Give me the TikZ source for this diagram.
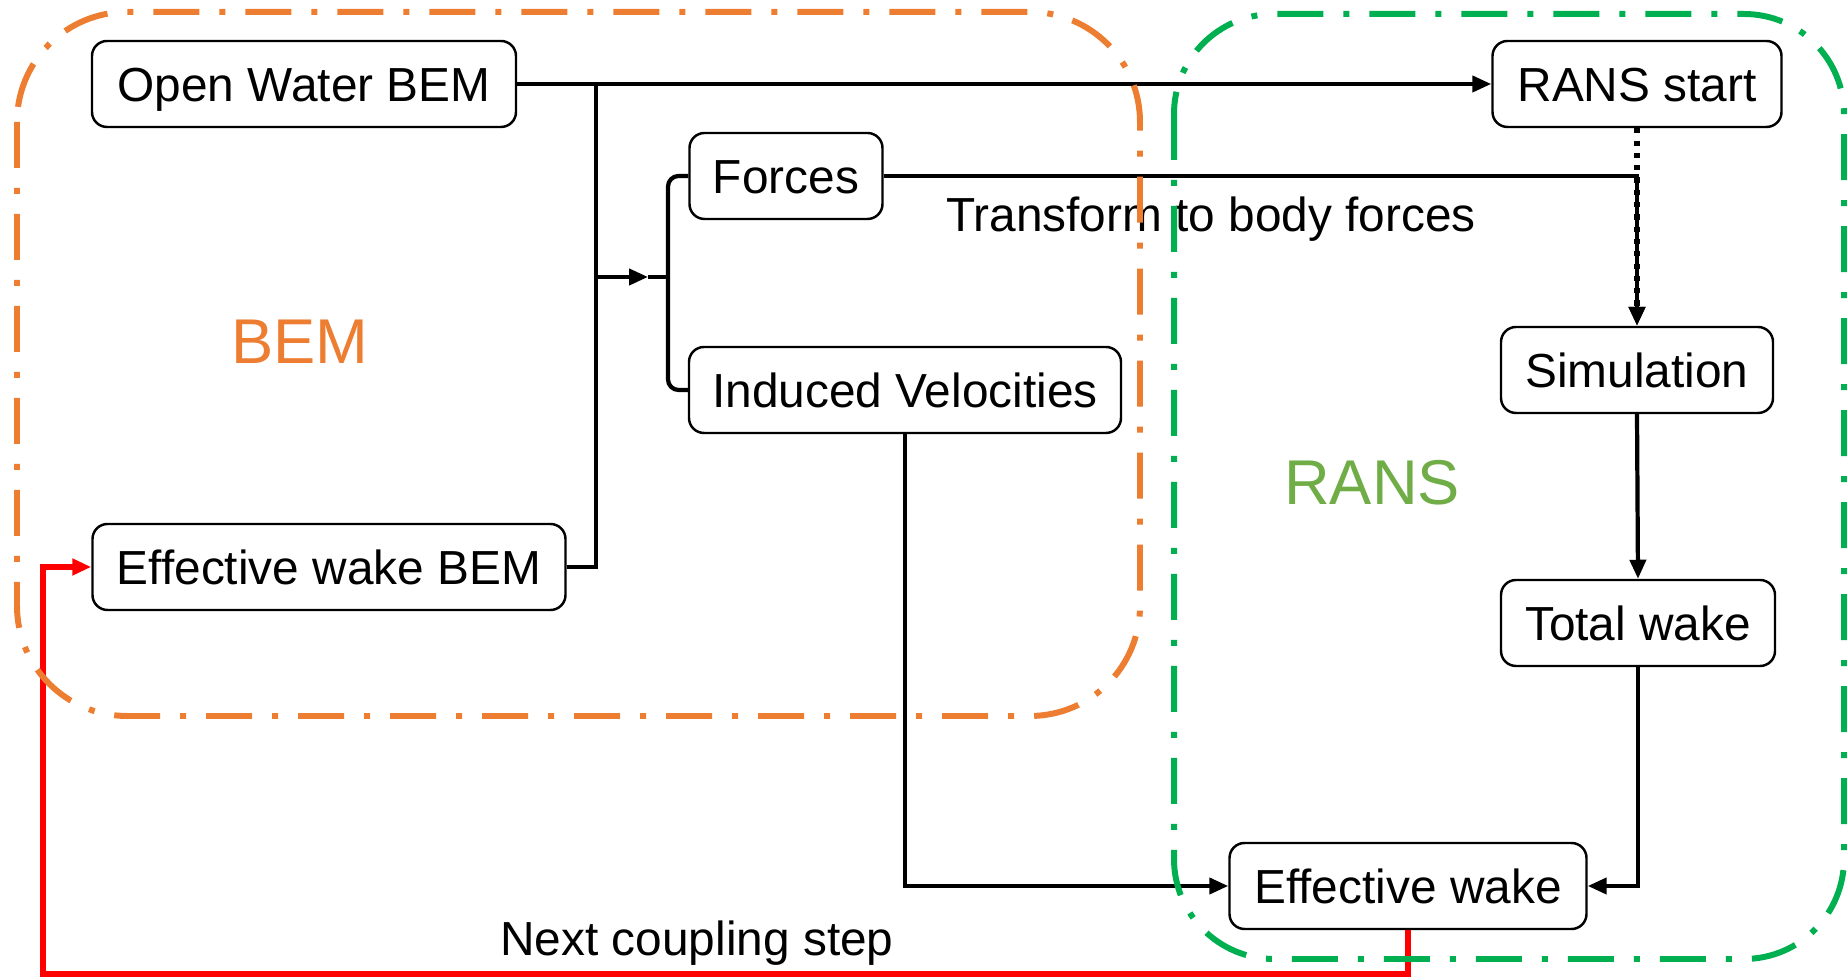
\documentclass[tikz,border=0pt]{standalone}
\usepackage{fontspec}
\setmainfont{Liberation Sans}
\usetikzlibrary{arrows.meta}

\definecolor{bemorange}{RGB}{237,125,49}
\definecolor{ransgreen}{RGB}{0,176,80}
\definecolor{ranslabel}{RGB}{112,173,71}

\begin{document}
\begin{tikzpicture}[
	box/.style={draw, line width=0.7pt, rounded corners=0.15cm, minimum height=0.86cm, inner sep=0pt, text height=9.7pt, text depth=0pt, font=\fontsize{13.6}{16}\selectfont},
	conn/.style={line width=1.2pt},
	arr/.style={conn, -{Triangle[length=0.19cm, width=0.16cm]}},
	region/.style={line width=1.7pt, dash pattern=on 0.46cm off 0.2cm on 0.06cm off 0.2cm},
	lbl/.style={font=\fontsize{13.6}{16}\selectfont}
]
	\useasboundingbox (0,0) rectangle (18.47,-9.77);

	\node[box, minimum width=4.24cm] (owbem) at (3.04,-0.84) {Open Water BEM};
	\node[box, minimum width=4.73cm] (ewbem) at (3.29,-5.67) {Effective wake BEM};
	\node[box, minimum width=1.93cm] (forces) at (7.86,-1.76) {Forces};
	\node[box, minimum width=4.32cm] (indvel) at (9.05,-3.90) {Induced Velocities};
	\node[box, minimum width=2.89cm] (ransstart) at (16.37,-0.84) {RANS start};
	\node[box, minimum width=2.72cm] (sim) at (16.37,-3.70) {Simulation};
	\node[box, minimum width=2.74cm] (totwake) at (16.38,-6.23) {Total wake};
	\node[box, minimum width=3.57cm] (ewake) at (14.08,-8.86) {Effective wake};

	\coordinate (split) at (5.96,-2.77);
	\coordinate (tip) at (6.48,-2.77);
	\coordinate (brace) at (6.68,-2.77);
	\coordinate (loopdown) at (14.08,-9.74);
	\coordinate (loopleft) at (0.43,-9.74);

	% BEM side
	\draw[arr] (owbem.east) -- (ransstart.west);
	\draw[conn] (ewbem.east) -| (split) -- (split |- owbem.east);
	\draw[arr] (split) -- (tip);
	\draw[conn] (tip) -- (brace);
	\draw[conn, rounded corners=3pt] (forces.west) -| (brace) |- (indvel.west);

	% RANS side
	\draw[arr] (forces.east) -| (sim.north);
	\draw[line width=1.6pt, dash pattern=on 1.5pt off 2pt, -{Triangle[length=0.19cm, width=0.16cm]}] (ransstart.south) -- (sim.north);
	\draw[arr] (sim.south) -- (totwake.north);
	\draw[arr] (totwake.south) |- (ewake.east);
	\draw[arr] (indvel.south) |- (ewake.west);

	% coupling loop
	\draw[red, line width=1.6pt, -{Triangle[length=0.19cm, width=0.16cm]}] (ewake.south) -- (loopdown) -- (loopleft) |- (ewbem.west);

	\node[lbl] (transform) at (12.11,-2.19) {Transform to body forces};
	\node[lbl] (next) at (6.97,-9.43) {Next coupling step};

	\draw[region, bemorange, rounded corners=1.1cm] (0.17,-0.12) rectangle (11.40,-7.16);
	\draw[region, ransgreen, rounded corners=1.0cm] (11.74,-0.14) rectangle (18.44,-9.59);

	\node[text=bemorange, font=\fontsize{18}{21}\selectfont] (bemlbl) at (3.00,-3.42) {BEM};
	\node[text=ranslabel, font=\fontsize{18}{21}\selectfont] (ranslbl) at (13.72,-4.83) {RANS};
\end{tikzpicture}
\end{document}
